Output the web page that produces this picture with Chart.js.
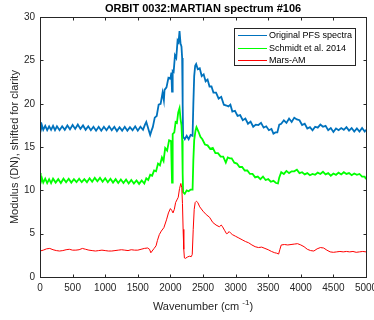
<!DOCTYPE html>
<html>
<head>
<meta charset="utf-8">
<script src="https://cdn.jsdelivr.net/npm/chart.js@4.4.0/dist/chart.umd.min.js"></script>
<style>
  html, body { margin: 0; padding: 0; background: #fff; }
</style>
</head>
<body>
<canvas id="spectrumChart" width="374" height="320"></canvas>
<script>
// values
const xTicks = [0, 500, 1000, 1500, 2000, 2500, 3000, 3500, 4000, 4500, 5000];
const yTicks = [0, 5, 10, 15, 20, 25, 30];
const seriesNames = ["Original PFS spectra", "Schmidt et al. 2014", "Mars-AM"];

const pfsWave = [0,10,30,50,80,110,140,170,200,230,260,300,340,380,420,460,500,540,580,620,660,700,740,780,820,860,900,940,980,1020,1060,1100,1140,1180,1220,1260,1300,1340,1380,1420,1460,1500,1540,1580,
  1610,1630,1650,1670,1690,1710,1730,1760,1790,1820,1850,1880,1900,1910,1940,1970,2000,2015,2025,2035,2050,2070,2090,2110,2125,2140,2155,2170,2180,2188,2195,
  2220,2250,2280,2310,2340,2352,2365,2380,2395,
  2420,2450,2480,2510,2540,2570,2600,2630,2660,2700,2740,2780,2820,2860,2890,2920,2950,2990,3030,3070,3110,3150,3190,3230,3270,3310,3350,3390,3430,3470,3510,3550,3580,3610,3640,3670,3700,3740,3780,3820,3860,3900,3940,3980,4020,4060,4100,4140,4180,4220,4260,4300,4340,4380,4420,4460,4500,4540,4580,4620,4660,4700,4740,4780,4820,4860,4900,4940,4980,5000];
const pfsValue = [17.9,16.9,17.5,17.0,17.45,16.95,17.4,17.0,17.45,16.95,17.4,16.95,17.4,17.0,17.5,17.05,17.55,17.1,17.6,17.1,17.5,17.0,17.4,16.95,17.35,16.9,17.35,16.9,17.35,16.95,17.4,16.95,17.35,16.85,17.3,16.9,17.35,16.9,17.3,16.95,17.4,16.9,17.35,17.0,
  17.6,17.9,17.4,16.9,16.4,16.9,17.3,18.4,18.6,19.9,20.0,21.3,20.4,21.6,21.9,23.0,22.9,23.6,21.4,23.8,23.7,25.6,25.3,27.3,27.1,28.4,27.0,26.6,25.3,20.0,16.2,
  15.9,16.3,15.9,16.4,16.3,20.0,23.2,24.4,24.6,
  24.0,24.1,23.2,23.4,22.6,22.8,22.0,22.0,21.3,21.3,20.6,20.8,19.9,19.8,19.7,19.9,19.1,19.2,18.6,18.7,18.1,18.3,17.7,17.95,17.35,17.6,17.55,17.8,17.25,17.4,16.95,17.1,16.55,16.7,16.7,17.6,17.7,18.1,17.8,18.3,17.9,18.4,18.2,18.1,17.55,17.7,17.15,17.3,16.95,17.35,17.25,17.6,17.35,17.45,16.95,17.2,16.75,17.15,16.95,17.2,17.0,17.3,16.9,17.2,16.8,17.15,16.8,17.2,16.8,17.0];

const schmidtWave = [0,10,30,50,80,110,140,170,200,240,280,320,360,400,440,480,520,560,600,640,680,720,760,800,840,880,920,960,1000,1040,1080,1120,1160,1200,1240,1280,1320,1360,1400,1440,1480,1520,1560,1600,
  1630,1660,1690,1720,1750,1780,1810,1840,1870,1895,1920,1950,1980,2010,2025,2035,2060,2080,2100,2120,2140,2155,2170,2180,2188,2195,
  2220,2250,2280,2310,2340,2352,2365,2385,2400,
  2430,2460,2490,2530,2570,2610,2650,2690,2730,2770,2810,2850,2880,2910,2940,2980,3020,3060,3100,3140,3180,3220,3260,3300,3340,3380,3420,3460,3500,3540,3580,3620,3650,3670,3700,3740,3780,3820,3860,3900,3940,3980,4020,4060,4100,4140,4180,4220,4260,4300,4340,4380,4420,4460,4500,4540,4580,4620,4660,4700,4740,4780,4820,4860,4900,4940,4980,5000];
const schmidtValue = [12.0,10.9,11.4,10.9,11.35,10.85,11.3,10.85,11.35,10.9,11.3,10.85,11.35,10.95,11.35,10.9,11.3,10.95,11.35,10.95,11.3,10.95,11.4,11.0,11.45,11.05,11.45,11.0,11.4,10.95,11.35,10.9,11.3,10.85,11.25,10.85,11.25,10.8,11.2,10.8,11.15,10.75,11.15,10.8,
  11.4,11.2,11.8,11.7,12.3,12.2,13.1,12.9,13.8,13.4,14.9,14.6,15.8,15.7,10.9,16.5,16.7,17.9,17.8,19.0,19.5,18.3,17.5,15.8,12.0,9.8,
  9.6,10.0,9.9,10.1,10.1,13.5,15.8,16.9,17.3,
  16.8,16.2,15.9,15.3,15.2,14.8,14.9,14.3,14.3,13.9,13.9,13.2,13.8,13.7,13.7,13.2,13.1,12.7,12.7,12.3,12.3,11.9,11.9,11.5,11.6,11.3,11.6,11.2,11.3,11.0,11.1,10.85,10.8,11.5,12.1,11.9,12.25,12.0,12.2,12.2,12.4,12.0,12.1,11.85,12.0,11.75,11.9,11.8,12.05,11.9,12.15,11.85,12.0,11.7,11.95,11.8,12.05,11.85,12.1,11.9,12.0,11.75,11.95,11.8,11.9,11.6,11.6,11.3];

const marsWave = [0,50,100,150,200,250,300,350,400,450,500,550,600,650,700,750,800,850,900,950,1000,1050,1100,1150,1200,1250,1300,1350,1400,1450,1500,1550,1600,1650,1680,1700,1720,1750,1780,1800,1830,1860,1900,1940,1970,2000,2020,2040,2060,2080,2100,2120,2140,2160,2175,2185,2195,2205,2215,2230,2260,2290,2320,2335,2350,2365,2380,2400,2420,2450,2500,2550,2600,2650,2700,2750,2780,2800,2830,2860,2880,2900,2920,2950,3000,3050,3100,3150,3200,3250,3300,3350,3400,3450,3500,3550,3600,3630,3660,3680,3700,3750,3800,3850,3900,3950,4000,4050,4100,4150,4200,4250,4300,4350,4400,4450,4500,4550,4600,4650,4700,4750,4800,4850,4900,4950,5000];
const marsValue = [3.0,3.1,3.25,3.3,3.15,3.05,3.0,3.05,3.15,3.2,3.1,3.1,3.15,3.3,3.2,3.1,3.05,3.0,3.05,3.1,3.05,3.0,3.0,3.05,3.1,3.15,3.1,3.05,3.15,3.1,3.1,3.2,3.3,3.35,3.2,2.8,3.0,3.3,3.6,4.2,4.9,5.3,5.7,6.6,7.4,7.9,7.7,7.4,7.8,8.6,8.9,9.2,10.2,10.8,10.3,8.5,5.5,3.2,2.2,2.15,2.3,2.4,2.35,2.6,5.5,7.8,8.6,8.75,8.6,8.1,7.6,7.2,6.9,6.3,6.0,5.8,6.0,5.8,5.4,5.0,5.05,5.25,5.1,4.9,4.7,4.5,4.3,4.1,3.95,3.7,3.5,3.4,3.45,3.3,3.15,2.95,2.8,2.75,2.65,3.2,3.7,3.75,3.7,3.75,3.8,3.85,3.7,3.5,3.2,3.05,3.0,3.25,3.4,3.35,3.1,2.9,2.85,2.9,2.95,2.9,2.95,2.9,2.95,2.85,2.9,2.95,2.9];

const FONT = "'Liberation Sans', Arial, Helvetica, sans-serif";
const AXIS_COLOR = "#262626";

function toPoints(xs, ys) {
  return xs.map(function (x, i) { return { x: x, y: ys[i] }; });
}

// box round the axes, ticks pointing inwards on all four sides, legend, x title
const matlabAxes = {
  id: "matlabAxes",
  afterDatasetsDraw(chart) {
    const ctx = chart.ctx;
    const a = chart.chartArea;
    const sx = chart.scales.x, sy = chart.scales.y;
    const L = Math.round(a.left) + 0.5, R = Math.round(a.right) + 0.5;
    const T = Math.round(a.top) + 0.5, B = Math.round(a.bottom) + 0.5;
    ctx.save();
    ctx.strokeStyle = AXIS_COLOR;
    ctx.lineWidth = 1;
    ctx.strokeRect(L, T, R - L, B - T);
    ctx.beginPath();
    xTicks.forEach(function (v) {
      const px = Math.round(sx.getPixelForValue(v)) + 0.5;
      ctx.moveTo(px, B); ctx.lineTo(px, B - 3);
      ctx.moveTo(px, T); ctx.lineTo(px, T + 3);
    });
    yTicks.forEach(function (v) {
      const py = Math.round(sy.getPixelForValue(v)) + 0.5;
      ctx.moveTo(L, py); ctx.lineTo(L + 3, py);
      ctx.moveTo(R, py); ctx.lineTo(R - 3, py);
    });
    ctx.stroke();

    // legend
    const lx = 234.5, ly = 28.5, lw = 121, lh = 37;
    ctx.fillStyle = "#fff";
    ctx.fillRect(lx, ly, lw, lh);
    ctx.strokeStyle = AXIS_COLOR;
    ctx.strokeRect(lx, ly, lw, lh);
    ctx.font = "9px " + FONT;
    ctx.textBaseline = "middle";
    ctx.textAlign = "left";
    chart.data.datasets.forEach(function (ds, i) {
      const y = Math.round(35 + i * 12.5) + 0.5;
      ctx.strokeStyle = ds.borderColor;
      ctx.lineWidth = 1;
      ctx.beginPath();
      ctx.moveTo(238, y); ctx.lineTo(267, y);
      ctx.stroke();
      ctx.fillStyle = "#000";
      ctx.fillText(ds.label, 269, y);
    });

    // x axis title with superscript
    const main = "Wavenumber (cm ";
    const sup = "-1";
    const close = ")";
    ctx.fillStyle = AXIS_COLOR;
    ctx.textBaseline = "alphabetic";
    ctx.font = "11px " + FONT;
    const w1 = ctx.measureText(main).width;
    const w3 = ctx.measureText(close).width;
    ctx.font = "8px " + FONT;
    const w2 = ctx.measureText(sup).width;
    const cx = (a.left + a.right) / 2;
    const x0 = cx - (w1 + w2 + w3) / 2;
    ctx.font = "11px " + FONT;
    ctx.fillText(main, x0, 310);
    ctx.font = "8px " + FONT;
    ctx.fillText(sup, x0 + w1, 305);
    ctx.font = "11px " + FONT;
    ctx.fillText(close, x0 + w1 + w2, 310);
    ctx.restore();
  }
};

const spectrumChart = new Chart("spectrumChart", {
  type: "line",
  data: {
    datasets: [
      {
        label: seriesNames[0],
        data: toPoints(pfsWave, pfsValue),
        borderColor: "#0072BD",
        borderWidth: 1.8,
        pointRadius: 0,
        tension: 0,
        order: 3,
      },
      {
        label: seriesNames[1],
        data: toPoints(schmidtWave, schmidtValue),
        borderColor: "#00FF00",
        borderWidth: 1.8,
        pointRadius: 0,
        tension: 0,
        order: 2,
      },
      {
        label: seriesNames[2],
        data: toPoints(marsWave, marsValue),
        borderColor: "#FF0000",
        borderWidth: 1,
        pointRadius: 0,
        tension: 0,
        order: 1,
      },
    ],
  },
  options: {
    responsive: false,
    animation: false,
    layout: { padding: { left: 0, right: 8, top: 0, bottom: 0 } },
    plugins: {
      legend: { display: false },
      tooltip: { enabled: false },
      title: {
        display: true,
        text: "ORBIT 0032:MARTIAN spectrum #106",
        color: "#000",
        fullSize: false,
        font: { family: FONT, size: 11, weight: "bold" },
        padding: { top: 2, bottom: 2 },
      },
    },
    scales: {
      x: {
        type: "linear",
        min: 0,
        max: 5000,
        afterBuildTicks: function (scale) {
          scale.ticks = xTicks.map(function (v) { return { value: v }; });
        },
        ticks: {
          color: AXIS_COLOR,
          font: { family: FONT, size: 10 },
          padding: 5,
          maxRotation: 0,
          autoSkip: false,
          callback: function (v) { return String(v); },
        },
        grid: { display: false, drawTicks: false },
        border: { display: false },
        afterFit: function (scale) {
          scale.height = 43;
          scale.paddingLeft = 0;
          scale.paddingRight = 0;
        },
      },
      y: {
        type: "linear",
        min: 0,
        max: 30,
        afterBuildTicks: function (scale) {
          scale.ticks = yTicks.map(function (v) { return { value: v }; });
        },
        ticks: {
          color: AXIS_COLOR,
          font: { family: FONT, size: 10 },
          padding: 5,
          callback: function (v) { return String(v); },
        },
        grid: { display: false, drawTicks: false },
        border: { display: false },
        title: {
          display: true,
          text: "Modulus (DN), shifted for clarity",
          color: AXIS_COLOR,
          font: { family: FONT, size: 11 },
          padding: { top: 8, bottom: 0 },
        },
        afterFit: function (scale) {
          scale.width = 40;
          scale.paddingTop = 0;
          scale.paddingBottom = 0;
        },
      },
    },
  },
  plugins: [matlabAxes],
});
</script>
</body>
</html>
